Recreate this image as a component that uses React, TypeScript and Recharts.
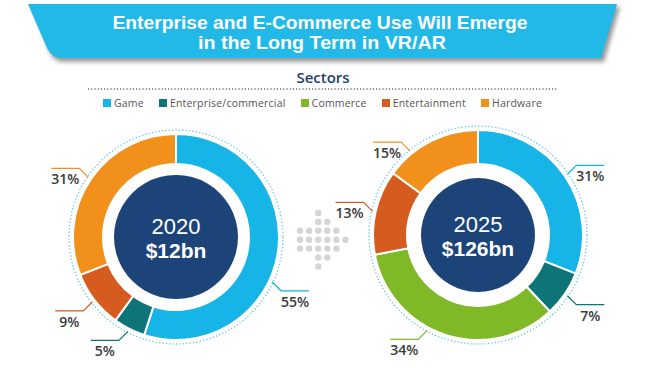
import { PieChart, Pie, Cell } from 'recharts';

// Sector shares (percent of market) read from the two donuts
const sectors = ['Game', 'Enterprise/commercial', 'Commerce', 'Entertainment', 'Hardware'];
const sectorColors = ['#17b4e8', '#0d7477', '#80b927', '#d65b1f', '#f2901c'];
const share2020 = [55, 5, 0, 9, 31];
const share2025 = [31, 7, 34, 13, 15];
const years = ['2020', '2025'];
const marketSize = ['$12bn', '$126bn'];

const titleLines = ['Enterprise and E-Commerce Use Will Emerge', 'in the Long Term in VR/AR'];

const RADIAN = Math.PI / 180;
const NAVY = '#1c4479';
const DOT_BLUE = '#5cc3ea';
const TIGHT_FONT = "'Liberation Sans', Arial, sans-serif";

const colorOf = (name: string) => sectorColors[sectors.indexOf(name)];

const toPie = (shares: number[]) =>
  sectors.map((name, i) => ({ name, value: shares[i] })).filter((d) => d.value > 0);

const data2020 = toPie(share2020);
const data2025 = toPie(share2025);

// small clockwise shifts (degrees) where the leader line doesn't sit at the slice middle
const nudge2020: Record<string, number> = { Game: 16 };
const nudge2025: Record<string, number> = { Commerce: 10, Hardware: -12 };

const ringLabel = (nudges: Record<string, number>) => (props: any) => {
  const { cx, cy, midAngle, outerRadius, value } = props;
  const name = props.name ?? props.payload?.name;
  const ang = midAngle - (nudges[name] ?? 0);
  const cos = Math.cos(-ang * RADIAN);
  const sin = Math.sin(-ang * RADIAN);
  const sx = cx + (outerRadius + 3) * cos;
  const sy = cy + (outerRadius + 3) * sin;
  const dx = cos >= 0 ? 1 : -1;
  const dy = sin >= 0 ? 1 : -1;
  const mx = sx + dx * 9;
  const my = sy + dy * 9;
  const ex = mx + dx * 28;
  const color = colorOf(name);
  return (
    <g>
      <path d={`M${sx},${sy}L${mx},${my}L${ex},${my}`} stroke={color} strokeWidth={1.2} fill="none" />
      <text
        x={(mx + ex) / 2}
        y={my + 16}
        textAnchor="middle"
        fill="#3a3a3a"
        fontSize={14}
        fontWeight={600}
        fontFamily="'Open Sans', sans-serif"
      >
        {value}%
      </text>
    </g>
  );
};

const centerLabel = (idx: number) => (props: any) => {
  const { cx, cy } = props;
  return (
    <g fontFamily={TIGHT_FONT} fill="#fff">
      <text x={cx} y={cy - 3} textAnchor="middle" fontSize={22} fill="#fff">
        {years[idx]}
      </text>
      <text x={cx} y={cy + 21} textAnchor="middle" fontSize={21} fontWeight={700} fill="#fff">
        {marketSize[idx]}
      </text>
    </g>
  );
};

// arrow made of grey dots between the donuts
const arrowRows = [[2], [2, 3], [0, 1, 2, 3, 4], [0, 1, 2, 3, 4, 5], [0, 1, 2, 3, 4], [2, 3], [2]];

const donuts = [
  { cx: 176, cy: 237, outer: 103, inner: 73, core: 62, data: data2020, nudges: nudge2020 },
  { cx: 478, cy: 235, outer: 105, inner: 71, core: 57, data: data2025, nudges: nudge2025 },
];

export default function App() {
  return (
    <div
      style={{
        position: 'absolute',
        left: 0,
        top: 0,
        width: 654,
        height: 368,
        background: '#fff',
        overflow: 'hidden',
        fontFamily: "'Open Sans', sans-serif",
      }}
    >
      <svg width={654} height={368} style={{ position: 'absolute', left: 0, top: 0 }}>
        <defs>
          <filter id="shadow" x="-10%" y="-50%" width="120%" height="200%">
            <feGaussianBlur stdDeviation="2" />
          </filter>
        </defs>
        {/* banner */}
        <path d="M32,7 L620,7 L604,62 L64,62 Q54,62 50,53 Z" fill="#9a9a9a" filter="url(#shadow)" />
        <path d="M28,4 L617,4 L601,58 L62,58 Q52,58 47,48 Z" fill="#22b9e9" />
        <g fontFamily={TIGHT_FONT} fill="#fff" fontWeight={700} fontSize={17.5}>
          <text x={320} y={29} textAnchor="middle" textLength={415} lengthAdjust="spacingAndGlyphs">
            {titleLines[0]}
          </text>
          <text x={322} y={48.5} textAnchor="middle" textLength={248} lengthAdjust="spacingAndGlyphs">
            {titleLines[1]}
          </text>
        </g>
        {/* legend heading */}
        <text x={323} y={83} textAnchor="middle" fill="#23426a" fontSize={15} fontWeight={600}>
          Sectors
        </text>
        <line x1={88} y1={89} x2={557} y2={89} stroke="#6a6a6a" strokeWidth={1.3} strokeDasharray="1.2 2" />
        {/* dotted rings */}
        {donuts.map((d, i) => (
          <circle key={i} cx={d.cx} cy={d.cy} r={d.outer + 4} fill="none" stroke={DOT_BLUE} strokeWidth={1.3} strokeDasharray="1.2 2.2" />
        ))}
        {arrowRows.map((row, r) =>
          row.map((c) => <circle key={`${r}-${c}`} cx={300 + c * 9.1} cy={213 + r * 8.9} r={3.2} fill="#d5d5d5" />)
        )}
      </svg>

      <div
        style={{
          position: 'absolute',
          left: 103,
          top: 96,
          display: 'flex',
          alignItems: 'center',
          gap: 15,
          fontSize: 10.5,
          color: '#555',
          letterSpacing: 0.2,
          whiteSpace: 'nowrap',
        }}
      >
        {sectors.map((s, i) => (
          <div key={s} style={{ display: 'flex', alignItems: 'center', gap: 3 }}>
            <span style={{ width: 8, height: 8, background: sectorColors[i], display: 'inline-block' }} />
            <span>{s}</span>
          </div>
        ))}
      </div>

      <div style={{ position: 'absolute', left: 0, top: 0 }}>
        <PieChart width={654} height={368} margin={{ top: 0, right: 0, bottom: 0, left: 0 }}>
          {donuts.map((d, i) => (
            <Pie
              key={`ring-${i}`}
              data={d.data}
              dataKey="value"
              nameKey="name"
              cx={d.cx}
              cy={d.cy}
              innerRadius={d.inner}
              outerRadius={d.outer}
              startAngle={90}
              endAngle={-270}
              stroke="#fff"
              strokeWidth={2}
              label={ringLabel(d.nudges)}
              labelLine={false}
              isAnimationActive={false}
            >
              {d.data.map((e) => (
                <Cell key={e.name} fill={colorOf(e.name)} />
              ))}
            </Pie>
          ))}
          {donuts.map((d, i) => (
            <Pie
              key={`core-${i}`}
              data={[{ name: years[i], value: 1 }]}
              dataKey="value"
              cx={d.cx}
              cy={d.cy}
              innerRadius={0}
              outerRadius={d.core}
              startAngle={90}
              endAngle={-270}
              fill={NAVY}
              stroke="none"
              label={centerLabel(i)}
              labelLine={false}
              isAnimationActive={false}
            />
          ))}
        </PieChart>
      </div>
    </div>
  );
}
